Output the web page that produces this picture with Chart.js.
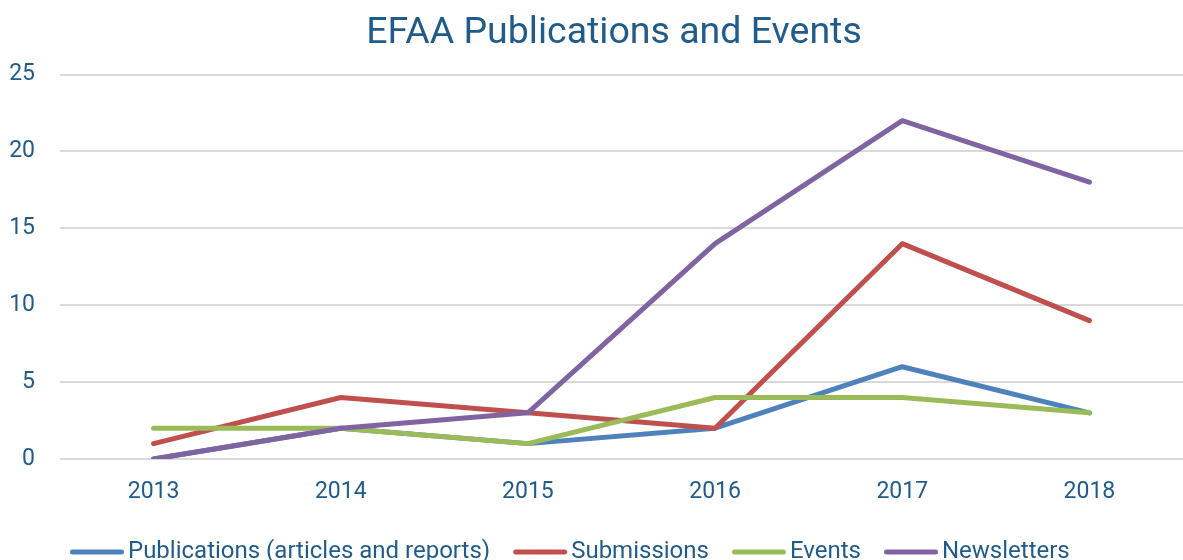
<!DOCTYPE html>
<html>
<head>
<meta charset="utf-8">
<script src="https://cdn.jsdelivr.net/npm/chart.js@4"></script>
<style>
html,body{margin:0;padding:0;background:#fff;}
#wrap{width:1183px;height:560px;position:relative;}
</style>
</head>
<body>
<div id="wrap"><canvas id="c" width="1183" height="560"></canvas></div>
<script>
const categories = ['2013','2014','2015','2016','2017','2018'];
const publications = [0, 2, 1, 2, 6, 3];
const submissions = [1, 4, 3, 2, 14, 9];
const events = [2, 2, 1, 4, 4, 3];
const newsletters = [0, 2, 3, 14, 22, 18];
const yTicks = [0, 5, 10, 15, 20, 25];

const textColor = '#1F5B8B';
const fontFamily = 'Roboto, "Liberation Sans", sans-serif';
const legendFont = 24;
const sampleLen = 54;

// legend line sample as an image, left-aligned so the text gap is small
function legendSample(color){
  const bw = 46;               // pointStyleWidth
  const W = 106;               // image width (centered at bw/2)
  const off = W/2 - bw/2;      // where the box starts inside the image
  const cv = document.createElement('canvas');
  cv.width = W; cv.height = 10;
  const g = cv.getContext('2d');
  g.strokeStyle = color; g.lineWidth = 5; g.lineCap = 'round';
  g.beginPath(); g.moveTo(off + 2.5, 5); g.lineTo(off + sampleLen - 2.5, 5); g.stroke();
  return cv;
}

function ds(label, data, color, order){
  return {label, data, order, borderColor: color, backgroundColor: color, borderWidth: 5,
    borderCapStyle: 'round', borderJoinStyle: 'round', pointRadius: 0, pointHoverRadius: 0,
    pointStyle: legendSample(color), tension: 0, fill: false};
}

// shift title / legend boxes horizontally to match the reference composition
const shiftBoxes = {
  id: 'shiftBoxes',
  afterLayout(chart){
    if (chart.titleBlock) { chart.titleBlock.left = 40; }
    if (chart.legend) { chart.legend.left = 47; }
  }
};

new Chart(document.getElementById('c'), {
  type: 'line',
  data: {
    labels: categories,
    datasets: [
      ds('Publications (articles and reports)', publications, '#4F81BD', 4),
      ds('Submissions', submissions, '#C0504D', 3),
      ds('Events', events, '#9BBB59', 2),
      ds('Newsletters', newsletters, '#8064A2', 1)
    ]
  },
  plugins: [shiftBoxes],
  options: {
    responsive: false,
    animation: false,
    layout: {padding: {left: 0, right: -5, top: 8, bottom: -14}},
    plugins: {
      title: {display: true, text: 'EFAA Publications and Events', color: textColor,
        font: {family: fontFamily, size: 37.5, weight: 'normal'}, padding: {top: 3, bottom: 18.5}},
      legend: {position: 'bottom', align: 'start', labels: {color: textColor, usePointStyle: true,
        sort: (a, b) => a.datasetIndex - b.datasetIndex,
        pointStyleWidth: 46, boxHeight: 10, padding: 23, font: {family: fontFamily, size: legendFont}}},
      tooltip: {enabled: false}
    },
    scales: {
      x: {offset: true, grid: {display: false}, border: {display: false},
        ticks: {color: textColor, font: {family: fontFamily, size: 23}, padding: 11},
        afterFit: (s) => { s.height = 58; }},
      y: {min: 0, max: 25, afterBuildTicks: (ax) => { ax.ticks = yTicks.map(v => ({value: v})); },
        grid: {color: '#D9D9D9', lineWidth: 2, drawTicks: false}, border: {display: false},
        ticks: {color: textColor, font: {family: fontFamily, size: 23}, padding: 25},
        afterFit: (s) => { s.width = 60; }}
    }
  }
});
</script>
</body>
</html>
